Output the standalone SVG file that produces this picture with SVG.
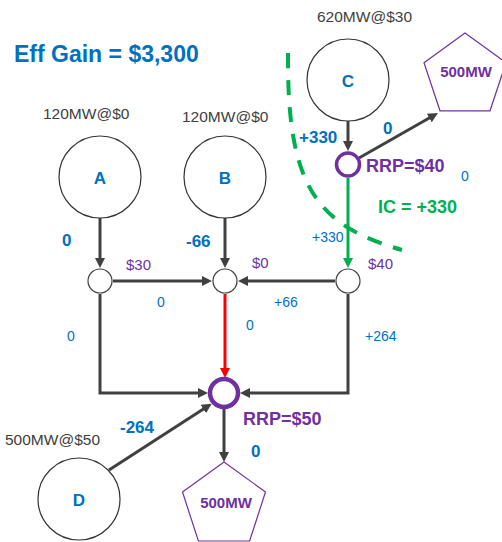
<svg xmlns="http://www.w3.org/2000/svg" width="502" height="542" viewBox="0 0 502 542">
<style>
text{font-family:"Liberation Sans",Arial,sans-serif}
.big{fill:#fff;stroke:#333;stroke-width:1.2}
.jn{fill:#fff;stroke:#404040;stroke-width:1.2}
.rrp{fill:#fff;stroke:#7030A0}
.pent{fill:#fff;stroke:#7030A0;stroke-width:1.2}
.ln{fill:none;stroke:#404040;stroke-width:3}
.gen{fill:#404040;font-size:15.5px}
.lt{fill:#0070C0;font-size:17px;font-weight:bold;text-anchor:middle}
.bb{fill:#0070C0;font-size:17px;font-weight:bold}
.bs{fill:#0070C0;font-size:14px}
.pr{fill:#7030A0;font-size:15px}
.pb{fill:#7030A0;font-size:18px;font-weight:bold}
.pl{fill:#7030A0;font-size:15px;font-weight:bold;text-anchor:middle}
</style>
<defs>
<marker id="ah" viewBox="0 0 10 10" markerWidth="10" markerHeight="10" markerUnits="userSpaceOnUse" refX="2" refY="5" orient="auto"><path d="M0,0L10,5L0,10z" fill="#404040"/></marker>
<marker id="ahg" viewBox="0 0 10 10" markerWidth="10" markerHeight="10" markerUnits="userSpaceOnUse" refX="2" refY="5" orient="auto"><path d="M0,0L10,5L0,10z" fill="#00B050"/></marker>
<marker id="ahr" viewBox="0 0 10 10" markerWidth="10" markerHeight="10" markerUnits="userSpaceOnUse" refX="2" refY="5" orient="auto"><path d="M0,0L10,5L0,10z" fill="#FF0000"/></marker>
</defs>
<rect width="502" height="542" fill="#fff"/>
<text x="14" y="62" style="fill:#0070C0;font-size:23px;font-weight:bold">Eff Gain = $3,300</text>
<path d="M288,53 C287,185 315,225 402,250" fill="none" stroke="#00B050" stroke-width="4" stroke-dasharray="15 12"/>
<g id="connectors">
<line class="ln" x1="100" y1="218" x2="100" y2="260" marker-end="url(#ah)"/>
<line class="ln" x1="225" y1="218" x2="225" y2="260" marker-end="url(#ah)"/>
<line class="ln" x1="113" y1="281" x2="204" y2="281" marker-end="url(#ah)"/>
<line class="ln" x1="335" y1="281" x2="246" y2="281" marker-end="url(#ah)"/>
<line class="ln" x1="348" y1="121" x2="348" y2="143" marker-end="url(#ah)"/>
<line class="ln" x1="359" y1="158" x2="431" y2="117" marker-end="url(#ah)"/>
<line x1="348" y1="178" x2="348" y2="260" stroke="#00B050" stroke-width="3" marker-end="url(#ahg)"/>
<line x1="225" y1="294" x2="225" y2="370" stroke="#FF0000" stroke-width="3" marker-end="url(#ahr)"/>
<polyline class="ln" points="100,294 100,393 200,393" marker-end="url(#ah)"/>
<polyline class="ln" points="348,294 348,393 248,393" marker-end="url(#ah)"/>
<line class="ln" x1="109" y1="470" x2="205" y2="408" marker-end="url(#ah)"/>
<line class="ln" x1="224" y1="409" x2="224" y2="454" marker-end="url(#ah)"/>
</g>
<g id="A"><circle class="big" cx="100" cy="177" r="41"/><text class="lt" x="100" y="184">A</text><text class="gen" x="43" y="119">120MW@$0</text></g>
<g id="B"><circle class="big" cx="225" cy="177" r="41"/><text class="lt" x="225" y="184">B</text><text class="gen" x="182" y="122">120MW@$0</text></g>
<g id="C"><circle class="big" cx="348" cy="80" r="41"/><text class="lt" x="348" y="87">C</text><text class="gen" x="317" y="22">620MW@$30</text></g>
<g id="D"><circle class="big" cx="79" cy="499" r="41"/><text class="lt" x="79" y="506">D</text><text class="gen" x="5" y="445">500MW@$50</text></g>
<g id="J1"><circle class="jn" cx="100" cy="281" r="12"/></g>
<g id="J2"><circle class="jn" cx="225" cy="281" r="12"/></g>
<g id="J3"><circle class="jn" cx="348" cy="281" r="12"/></g>
<g id="RRP40"><circle class="rrp" cx="348" cy="164.5" r="11.5" stroke-width="3.5"/><text class="pb" x="366" y="172">RRP=$40</text></g>
<g id="RRP50"><circle class="rrp" cx="224" cy="393" r="14" stroke-width="4.5"/><text class="pb" x="243" y="425">RRP=$50</text></g>
<g id="Load1"><polygon class="pent" points="465,33 506,62.7 490,110.8 440,110.8 424,62.7"/><text class="pl" x="466" y="77">500MW</text></g>
<g id="Load2"><polygon class="pent" points="224,462 265.5,492 249.6,541 198.4,541 182.5,492"/><text class="pl" x="226" y="508">500MW</text></g>
<g id="labels">
<text class="bb" x="62" y="246">0</text>
<text class="bb" x="186" y="247">-66</text>
<text class="bb" x="299" y="143">+330</text>
<text class="bb" x="383" y="134">0</text>
<text class="bb" x="120" y="433">-264</text>
<text class="bb" x="251" y="457">0</text>
<text class="pr" x="126" y="270">$30</text>
<text class="pr" x="252" y="268">$0</text>
<text class="pr" x="368" y="269">$40</text>
<text class="bs" x="312" y="242">+330</text>
<text class="bs" x="461" y="181">0</text>
<text class="bs" x="157" y="307">0</text>
<text class="bs" x="67" y="341">0</text>
<text class="bs" x="246" y="330">0</text>
<text class="bs" x="274" y="307">+66</text>
<text class="bs" x="365" y="341">+264</text>
<text x="378" y="213" style="fill:#00B050;font-size:18px;font-weight:bold">IC = +330</text>
</g>
</svg>
